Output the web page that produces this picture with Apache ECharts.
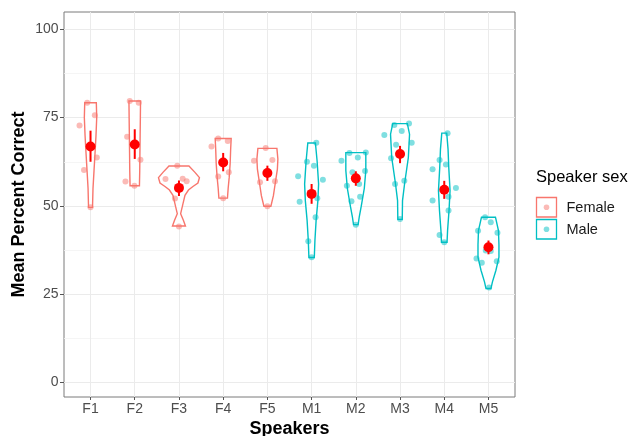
<!DOCTYPE html>
<html><head><meta charset="utf-8">
<script src="https://cdn.jsdelivr.net/npm/echarts@6/dist/echarts.min.js"></script>
<style>html,body{margin:0;padding:0;background:#fff}#c{width:630px;height:436px}</style>
</head><body><div id="c"></div>
<script>
// ---------- data ----------
const speakers = ['F1','F2','F3','F4','F5','M1','M2','M3','M4','M5'];
const speakerSex = ['Female','Female','Female','Female','Female','Male','Male','Male','Male','Male'];
const yTicks = [0, 25, 50, 75, 100];
const yMinorTicks = [12.5, 37.5, 62.5, 87.5];
const means   = [66.8, 67.4, 55.1, 62.3, 59.3, 53.4, 57.8, 64.7, 54.6, 38.3];
const errLow  = [62.5, 63.3, 52.8, 59.8, 57.1, 50.6, 55.7, 62.1, 52.0, 36.3];
const errHigh = [71.3, 71.7, 57.2, 65.0, 61.4, 56.2, 59.8, 67.0, 57.1, 40.2];

// violin outlines: [value, half-width in category units], top to bottom
const violinF1 = [[79.2,0.131],[75,0.140],[70,0.124],[65,0.102],[60,0.079],[55,0.056],[49.6,0.045]];
const violinF2 = [[79.7,0.131],[75,0.127],[70,0.122],[65,0.117],[60,0.113],[55.7,0.106]];
const violinF3 = [[61.3,0.226],[59.5,0.362],[58,0.463],[56.5,0.429],[55.5,0.316],[54.5,0.215],[53,0.136],[50.6,0.090],[47.8,0.038],[45.9,0.102],[44.3,0.147]];
const violinF4 = [[69.1,0.181],[66,0.169],[62,0.158],[58,0.136],[55,0.113],[52.2,0.097]];
const violinF5 = [[66.3,0.215],[63.3,0.237],[60.4,0.226],[56.7,0.181],[52.9,0.136],[49.9,0.079]];
const violinM1 = [[67.8,0.086],[62.8,0.124],[56.2,0.158],[51.5,0.142],[45.9,0.102],[40.2,0.075],[35.4,0.061]];
const violinM2 = [[65.1,0.226],[60,0.226],[55,0.192],[50,0.124],[47,0.079],[44.7,0.052]];
const violinM3 = [[73.3,0.165],[70.3,0.215],[63.7,0.188],[56.2,0.102],[51.5,0.056],[46.2,0.050]];
const violinM4 = [[70.6,0.056],[66,0.086],[60.9,0.102],[54.3,0.131],[48.7,0.108],[43,0.075],[39.7,0.063]];
const violinM5 = [[46.8,0.158],[43,0.226],[39,0.237],[35.5,0.237],[31.8,0.169],[28.5,0.090],[26.6,0.056]];

// jittered observations: [offset from category centre, value]
const pointsF1 = [[-0.075,79.2],[0.097,75.7],[-0.249,72.8],[0.142,63.7],[-0.147,60.2],[0,49.6]];
const pointsF2 = [[-0.113,79.7],[0.090,79.2],[-0.172,69.6],[0.129,63.1],[-0.210,56.9],[-0.007,55.7]];
const pointsF3 = [[-0.038,61.4],[-0.305,57.6],[0.084,57.7],[0.174,57.0],[-0.090,52.1],[0,44.2]];
const pointsF4 = [[-0.113,69.1],[0.104,68.4],[-0.264,66.8],[0.127,59.5],[-0.113,58.3],[0,52.2]];
const pointsF5 = [[-0.038,66.4],[-0.303,62.8],[0.113,63.0],[-0.167,56.7],[0.172,57.0],[0,49.9]];
const pointsM1 = [[0.106,67.9],[-0.106,62.5],[0.052,61.4],[-0.305,58.4],[0.255,57.4],[-0.271,51.2],[0.129,52.2],[0.090,46.8],[-0.075,40.0],[0,35.5]];
const pointsM2 = [[-0.145,65.0],[0.226,65.1],[-0.325,62.8],[0.045,63.7],[-0.077,59.5],[0.210,59.9],[-0.203,55.7],[0.075,56.2],[-0.099,51.3],[0.097,52.6],[0,44.7]];
const pointsM3 = [[-0.129,72.9],[0.203,73.3],[-0.355,70.1],[0.038,71.2],[0.264,67.9],[-0.090,67.3],[-0.203,63.5],[-0.113,56.2],[0.097,57.1],[0,46.3]];
const pointsM4 = [[0.075,70.6],[-0.106,63.0],[0.038,61.7],[-0.264,60.4],[0.264,55.1],[-0.264,51.5],[0.097,52.6],[0.097,48.7],[-0.106,41.8],[0,39.7]];
const pointsM5 = [[-0.077,46.8],[0.052,45.4],[-0.235,43.0],[0.203,42.4],[-0.061,37.4],[0.052,37.2],[-0.271,35.1],[0.188,34.3],[-0.151,33.9],[0.014,26.9]];

const legendLabels = ['Female', 'Male'];
const legendTitle = 'Speaker sex';

// ---------- build ----------
const violins = [violinF1,violinF2,violinF3,violinF4,violinF5,violinM1,violinM2,violinM3,violinM4,violinM5];
const points = [pointsF1,pointsF2,pointsF3,pointsF4,pointsF5,pointsM1,pointsM2,pointsM3,pointsM4,pointsM5];
const sexColor = {Female: '#F8766D', Male: '#00BFC4'};
const sexColorA = {Female: 'rgba(248,118,109,0.5)', Male: 'rgba(0,191,196,0.5)'};
const FONT = '"Liberation Sans", Arial, Helvetica, sans-serif';

function pointData(sex) {
  const out = [];
  speakers.forEach((s, i) => {
    if (speakerSex[i] !== sex) return;
    points[i].forEach(p => out.push([i + p[0], p[1]]));
  });
  return out;
}

const chart = echarts.init(document.getElementById('c'), null, {renderer: 'canvas'});
const catIdx = speakers.map((s, i) => i);

const option = {
  backgroundColor: '#fff',
  animation: false,
  textStyle: {fontFamily: FONT},
  grid: {left: 64, top: 12, width: 451, height: 385, show: true, borderColor: '#7a7a7a', borderWidth: 1, backgroundColor: 'transparent', containLabel: false, outerBoundsMode: 'none'},
  xAxis: {
    type: 'value', min: -0.6, max: 9.6,
    name: 'Speakers', nameLocation: 'middle', nameGap: 23, nameMoveOverlap: false,
    nameTextStyle: {fontFamily: FONT, fontWeight: 'bold', fontSize: 18, color: '#000'},
    axisLine: {show: false, onZero: false},
    axisTick: {show: true, length: 3, customValues: catIdx, lineStyle: {color: '#555', width: 1}},
    axisLabel: {customValues: catIdx, formatter: v => speakers[Math.round(v)], fontSize: 14, color: '#4d4d4d', margin: 5.5, fontFamily: FONT},
    splitLine: {show: true, lineStyle: {color: '#ebebeb', width: 1}}
  },
  yAxis: [{
    type: 'value', min: -4.1, max: 104.9,
    name: 'Mean Percent Correct', nameLocation: 'middle', nameGap: 36, nameRotate: 90, nameMoveOverlap: false,
    nameTextStyle: {fontFamily: FONT, fontWeight: 'bold', fontSize: 18, color: '#000'},
    axisLine: {show: false, onZero: false},
    axisTick: {show: true, length: 4, customValues: yTicks, lineStyle: {color: '#555', width: 1}},
    axisLabel: {customValues: yTicks, fontSize: 14, color: '#4d4d4d', margin: 5.5, fontFamily: FONT},
    splitLine: {show: true, lineStyle: {color: '#ebebeb', width: 1}}
  }, {
    type: 'value', min: -4.1, max: 104.9, position: 'left',
    axisLine: {show: false, onZero: false},
    axisTick: {show: false, customValues: yMinorTicks},
    axisLabel: {show: false, customValues: yMinorTicks},
    splitLine: {show: true, lineStyle: {color: '#f3f3f3', width: 0.8}}
  }],
  series: [
    {
      type: 'custom', name: 'violins', z: 2,
      data: catIdx.map(i => [i, means[i]]),
      encode: {x: 0, y: 1},
      renderItem: function (params, api) {
        const i = api.value(0);
        const v = violins[i];
        const pts = [];
        v.forEach(d => pts.push(api.coord([i + d[1], d[0]])));
        for (let k = v.length - 1; k >= 0; k--) pts.push(api.coord([i - v[k][1], v[k][0]]));
        return {type: 'polygon', shape: {points: pts}, style: {fill: '#fff', stroke: sexColor[speakerSex[i]], lineWidth: 1.4}};
      }
    },
    {type: 'scatter', name: 'Female', z: 3, data: pointData('Female'), symbolSize: 6, itemStyle: {color: sexColorA.Female, opacity: 1}},
    {type: 'scatter', name: 'Male', z: 3, data: pointData('Male'), symbolSize: 6, itemStyle: {color: sexColorA.Male, opacity: 1}},
    {
      type: 'custom', name: 'se', z: 4,
      data: catIdx.map(i => [i, errLow[i], errHigh[i]]),
      encode: {x: 0, y: [1, 2]},
      renderItem: function (params, api) {
        const a = api.coord([api.value(0), api.value(1)]);
        const b = api.coord([api.value(0), api.value(2)]);
        return {type: 'line', shape: {x1: a[0], y1: a[1], x2: b[0], y2: b[1]}, style: {stroke: '#ff0000', lineWidth: 2}};
      }
    },
    {type: 'scatter', name: 'mean', z: 5, data: catIdx.map(i => [i, means[i]]), symbolSize: 10, itemStyle: {color: '#ff0000', opacity: 1}}
  ],
  graphic: [
    {type: 'text', left: 536, top: 169, style: {text: legendTitle, fontSize: 16.5, fontFamily: FONT, fill: '#000'}},
  ].concat(...legendLabels.map((lab, k) => [
    {type: 'rect', shape: {x: 536.5, y: 197.5 + k * 22, width: 20, height: 19.5}, style: {fill: '#fff', stroke: sexColor[lab], lineWidth: 1.3}},
    {type: 'circle', shape: {cx: 546.5, cy: 207.3 + k * 22, r: 2.8}, style: {fill: sexColorA[lab]}},
    {type: 'text', x: 566.5, y: 207.5 + k * 22, style: {text: lab, fontSize: 14.5, fontFamily: FONT, fill: '#1a1a1a', verticalAlign: 'middle', align: 'left'}}
  ]))
};
chart.setOption(option);
</script></body></html>
